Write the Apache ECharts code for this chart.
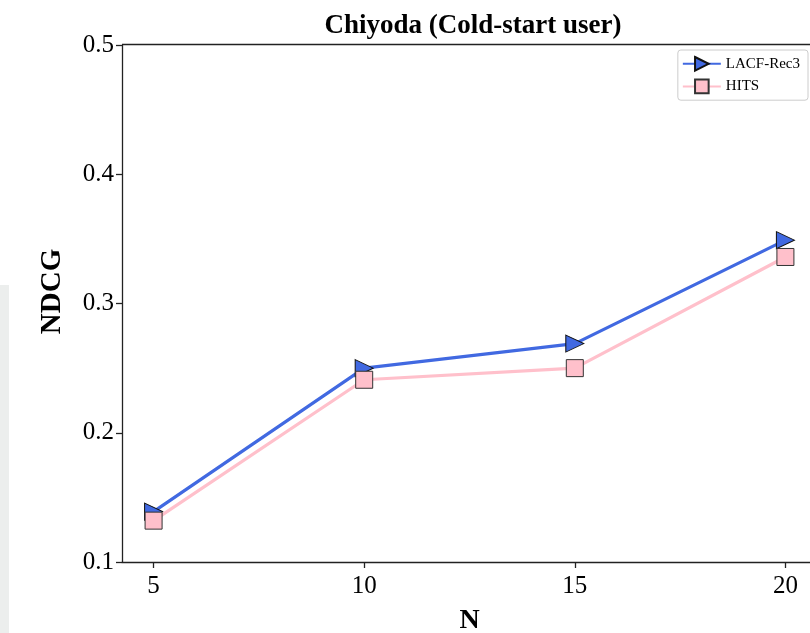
<!DOCTYPE html>
<html>
<head>
<meta charset="utf-8">
<script src="https://cdn.jsdelivr.net/npm/echarts@6/dist/echarts.min.js"></script>
<style>html,body{margin:0;padding:0;background:#fff}#c{width:810px;height:633px}</style>
</head>
<body>
<div id="c"></div>
<script>
const nValues = [5, 10, 15, 20];
const lacfRec3 = [0.139, 0.25, 0.269, 0.349];
const hits = [0.132, 0.241, 0.250, 0.336];
const yTicks = [0.1, 0.2, 0.3, 0.4, 0.5];

const serif = '"Liberation Serif", "DejaVu Serif", serif';
const chart = echarts.init(document.getElementById('c'));
const triRight = 'path://M0,0 L10,5 L0,10 Z';

chart.setOption({
  animation: false,
  backgroundColor: '#fff',
  title: {
    text: 'Chiyoda (Cold-start user)',
    left: 468, top: 8, textAlign: 'center',
    textStyle: { fontFamily: serif, fontWeight: 'bold', fontSize: 27, color: '#000' }
  },
  legend: {
    right: 2, top: 50,
    orient: 'vertical',
    itemWidth: 38, itemHeight: 17, itemGap: 7,
    padding: [6, 8, 6, 4],
    borderColor: '#cccccc', borderWidth: 1, borderRadius: 3,
    backgroundColor: '#fff',
    textStyle: { fontFamily: serif, fontSize: 15, color: '#000' },
    data: ['LACF-Rec3', 'HITS']
  },
  grid: { left: 122, top: 45, width: 695, height: 517, containLabel: false, outerBoundsMode: 'none' },
  xAxis: {
    type: 'value', min: 4.25, max: 20.75,
    name: 'N', nameLocation: 'middle', nameGap: 45,
    nameTextStyle: { fontFamily: serif, fontWeight: 'bold', fontSize: 28, color: '#000' },
    axisLine: { onZero: false, lineStyle: { color: '#222', width: 1.3 } },
    axisTick: { show: true, length: 6, customValues: nValues, lineStyle: { color: '#222', width: 1.3 } },
    axisLabel: {
      fontFamily: serif, fontSize: 25, color: '#000', margin: 12,
      customValues: nValues,
      formatter: v => String(v)
    },
    splitLine: { show: false }
  },
  yAxis: {
    type: 'value', min: 0.1, max: 0.5, interval: 0.1,
    name: 'NDCG', nameLocation: 'middle', nameGap: 55, nameRotate: 90,
    nameTextStyle: { fontFamily: serif, fontWeight: 'bold', fontSize: 29, color: '#000', padding: [0, 0, 0, 24] },
    axisLine: { show: true, lineStyle: { color: '#222', width: 1.3 } },
    axisTick: { show: true, length: 6, lineStyle: { color: '#222', width: 1.3 } },
    axisLabel: {
      fontFamily: serif, fontSize: 25, color: '#000', margin: 8,
      formatter: v => v.toFixed(1)
    },
    splitLine: { show: false }
  },
  graphic: [
    { type: 'line', shape: { x1: 122, y1: 44.5, x2: 810, y2: 44.5 }, style: { stroke: '#222', lineWidth: 1.3 }, z: 10 },
    { type: 'rect', shape: { x: 0, y: 285, width: 9, height: 348 }, style: { fill: '#eceeed' }, z: -1 }
  ],
  series: [
    {
      name: 'LACF-Rec3', type: 'line',
      data: nValues.map((n, i) => [n, lacfRec3[i]]),
      symbol: triRight, symbolSize: [18, 17],
      lineStyle: { color: '#4169E1', width: 3.2 },
      itemStyle: { color: '#4169E1', borderColor: '#111', borderWidth: 1 },
      z: 3
    },
    {
      name: 'HITS', type: 'line',
      data: nValues.map((n, i) => [n, hits[i]]),
      symbol: 'rect', symbolSize: [17, 17],
      lineStyle: { color: '#FFC0CB', width: 3.2 },
      itemStyle: { color: '#FFC0CB', borderColor: '#333', borderWidth: 1 },
      z: 4
    }
  ]
});
</script>
</body>
</html>
